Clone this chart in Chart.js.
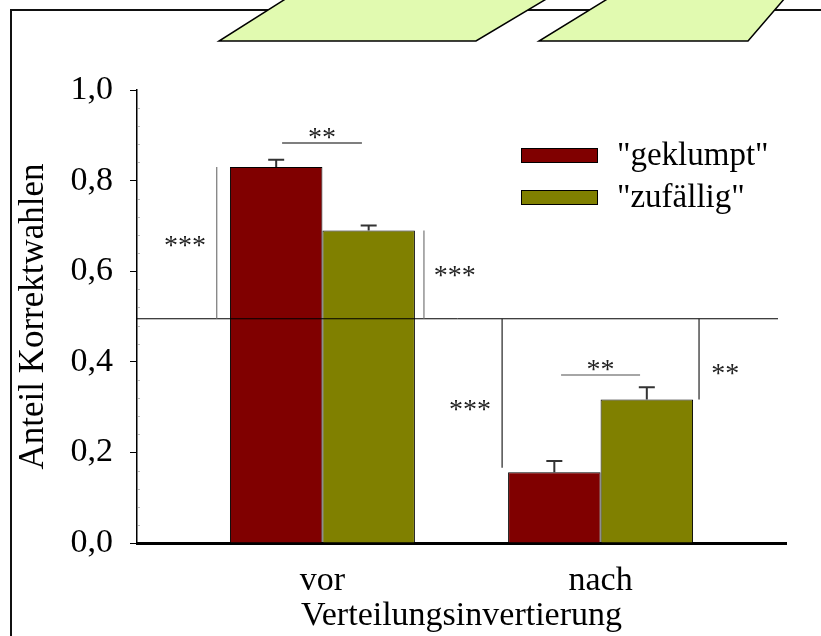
<!DOCTYPE html>
<html>
<head>
<meta charset="utf-8">
<script src="https://cdn.jsdelivr.net/npm/chart.js@4/dist/chart.umd.min.js"></script>
<style>
  html, body { margin: 0; padding: 0; background: #fff; }
  #wrap { width: 821px; height: 636px; position: relative; }
</style>
</head>
<body>
<div id="wrap"><canvas id="c" width="821" height="636"></canvas></div>
<script>
// Anteil Korrektwahlen vor und nach der Verteilungsinvertierung
const categories = ['vor', 'nach'];
const seriesNames = ['"geklumpt"', '"zufällig"'];
const geklumpt = [0.830, 0.156];
const zufaellig = [0.690, 0.317];
const geklumptErr = [0.016, 0.025];
const zufaelligErr = [0.011, 0.027];
const yTicks = [0, 0.2, 0.4, 0.6, 0.8, 1.0];
const chanceLevel = 0.495;

// Signifikanzmarken (x in Kategorie-Einheiten: vor = 1, nach = 2)
const sigVertical = [
  { x: 0.62, from: 0.830, to: chanceLevel, text: '***', tx: 0.506, ty: 0.662, color: '#777' },
  { x: 1.365, from: 0.690, to: chanceLevel, text: '***', tx: 1.476, ty: 0.596, color: '#777' },
  { x: 1.646, from: chanceLevel, to: 0.166, text: '***', tx: 1.531, ty: 0.302, color: '#222' },
  { x: 2.354, from: chanceLevel, to: 0.317, text: '**', tx: 2.448, ty: 0.380, color: '#222' }
];
const sigBrackets = [
  { x0: 0.855, x1: 1.142, y: 0.883, text: '**', ty: 0.902, color: '#555' },
  { x0: 1.858, x1: 2.142, y: 0.371, text: '**', ty: 0.389, color: '#888' }
];

const serif = "'Liberation Serif', 'Times New Roman', serif";

const toPoints = vals => vals.map((v, i) => ({ x: i + 1, y: v }));

const frameAndShapes = {
  id: 'frameAndShapes',
  afterDraw(chart) {
    const ctx = chart.ctx;
    ctx.save();
    // Rahmen
    ctx.strokeStyle = '#111';
    ctx.lineWidth = 2;
    ctx.beginPath();
    ctx.moveTo(11, 640);
    ctx.lineTo(11, 10);
    ctx.lineTo(830, 10);
    ctx.stroke();
    // Parallelogramme oben
    const shapes = [
      [[219, 41], [476, 41], [548, -2], [287, -2]],
      [[539, 41], [748, 41], [785, -2], [609, -2]]
    ];
    ctx.fillStyle = '#e1fab0';
    ctx.strokeStyle = '#000';
    ctx.lineWidth = 1.5;
    shapes.forEach(p => {
      ctx.beginPath();
      ctx.moveTo(p[0][0], p[0][1]);
      for (let i = 1; i < p.length; i++) ctx.lineTo(p[i][0], p[i][1]);
      ctx.closePath();
      ctx.fill();
      ctx.stroke();
    });
    ctx.restore();
  }
};

const annotations = {
  id: 'annotations',
  afterDatasetsDraw(chart) {
    const ctx = chart.ctx;
    const xs = chart.scales.x, ys = chart.scales.y;
    const area = chart.chartArea;
    ctx.save();

    // Fehlerbalken (nur nach oben)
    const errs = [geklumptErr, zufaelligErr];
    chart.data.datasets.forEach((ds, di) => {
      const meta = chart.getDatasetMeta(di);
      meta.data.forEach((bar, i) => {
        const v = ds.data[i].y;
        const yTop = ys.getPixelForValue(v + errs[di][i]);
        const yBar = ys.getPixelForValue(v);
        ctx.strokeStyle = '#333';
        ctx.lineWidth = 2;
        ctx.beginPath();
        ctx.moveTo(bar.x, yBar);
        ctx.lineTo(bar.x, yTop);
        ctx.moveTo(bar.x - 8, yTop);
        ctx.lineTo(bar.x + 8, yTop);
        ctx.stroke();
      });
    });

    // Zufallsniveau
    const yc = ys.getPixelForValue(chanceLevel);
    ctx.strokeStyle = '#000';
    ctx.lineWidth = 1;
    ctx.beginPath();
    ctx.moveTo(area.left, yc);
    ctx.lineTo(area.right - 8, yc);
    ctx.stroke();

    ctx.font = '28px ' + serif;
    ctx.textAlign = 'center';
    ctx.textBaseline = 'middle';

    sigVertical.forEach(s => {
      const px = xs.getPixelForValue(s.x);
      ctx.strokeStyle = s.color;
      ctx.lineWidth = 1.2;
      ctx.beginPath();
      ctx.moveTo(px, ys.getPixelForValue(s.from));
      ctx.lineTo(px, ys.getPixelForValue(s.to));
      ctx.stroke();
      ctx.fillStyle = '#222';
      ctx.fillText(s.text, xs.getPixelForValue(s.tx), ys.getPixelForValue(s.ty) + 4);
    });

    sigBrackets.forEach(s => {
      const py = ys.getPixelForValue(s.y);
      ctx.strokeStyle = s.color;
      ctx.lineWidth = 1.5;
      ctx.beginPath();
      ctx.moveTo(xs.getPixelForValue(s.x0), py);
      ctx.lineTo(xs.getPixelForValue(s.x1), py);
      ctx.stroke();
      ctx.fillStyle = '#222';
      ctx.fillText(s.text, xs.getPixelForValue((s.x0 + s.x1) / 2), ys.getPixelForValue(s.ty) + 4);
    });

    // Nebenstriche der y-Achse
    ctx.strokeStyle = '#bbb';
    ctx.lineWidth = 1;
    for (let k = 1; k < 25; k++) {
      if (k % 5 === 0) continue;
      const py = Math.round(ys.getPixelForValue(k * 0.04)) + 0.5;
      ctx.beginPath();
      ctx.moveTo(area.left + 1, py);
      ctx.lineTo(area.left + 3, py);
      ctx.stroke();
    }

    // Legende
    ctx.font = '33px ' + serif;
    ctx.textAlign = 'left';
    ctx.textBaseline = 'middle';
    chart.data.datasets.forEach((ds, di) => {
      const top = 148 + 42 * di;
      ctx.fillStyle = ds.backgroundColor;
      ctx.fillRect(521, top, 77, 15);
      ctx.strokeStyle = '#000';
      ctx.lineWidth = 1;
      ctx.strokeRect(521.5, top + 0.5, 76, 14);
      ctx.fillStyle = '#000';
      ctx.fillText(ds.label, 617, top + 8);
    });

    ctx.restore();
  }
};

new Chart(document.getElementById('c'), {
  type: 'bar',
  data: {
    datasets: [
      { label: seriesNames[0], data: toPoints(geklumpt), backgroundColor: '#800000', borderColor: '#000', borderWidth: 1 },
      { label: seriesNames[1], data: toPoints(zufaellig), backgroundColor: '#808000', borderColor: '#000', borderWidth: 1 }
    ]
  },
  options: {
    responsive: false,
    animation: false,
    events: [],
    categoryPercentage: 0.665,
    barPercentage: 1.0,
    layout: { padding: { left: 0, right: 35, top: 90, bottom: 0 } },
    plugins: { legend: { display: false }, tooltip: { enabled: false } },
    scales: {
      x: {
        type: 'linear',
        offset: false,
        min: 1 / 3,
        max: 8 / 3,
        afterBuildTicks: s => { s.ticks = categories.map((c, i) => ({ value: i + 1 })); },
        afterFit: s => { s.height = 93; },
        grid: { display: true, drawOnChartArea: false, drawTicks: false },
        border: { display: true, color: '#000', width: 3 },
        ticks: {
          autoSkip: false,
          maxRotation: 0,
          padding: 18,
          color: '#000',
          font: { family: serif, size: 34 },
          callback: v => categories[Math.round(v) - 1] || ''
        },
        title: {
          display: true,
          text: 'Verteilungsinvertierung',
          color: '#000',
          font: { family: serif, size: 34 },
          padding: { top: 0, bottom: 0 }
        }
      },
      y: {
        min: 0,
        max: 1,
        afterBuildTicks: s => { s.ticks = yTicks.map(v => ({ value: v })); },
        afterFit: s => { s.width = 137; },
        grid: { drawOnChartArea: false, drawTicks: true, tickLength: 7, color: '#000', lineWidth: 1 },
        border: { display: true, color: '#000', width: 1.5 },
        ticks: {
          padding: 17,
          color: '#000',
          font: { family: serif, size: 34 },
          callback: v => v.toFixed(1).replace('.', ',')
        },
        title: {
          display: true,
          text: 'Anteil Korrektwahlen',
          color: '#000',
          font: { family: serif, size: 35 },
          padding: { top: 13, bottom: 0 }
        }
      }
    }
  },
  plugins: [frameAndShapes, annotations]
});
</script>
</body>
</html>
